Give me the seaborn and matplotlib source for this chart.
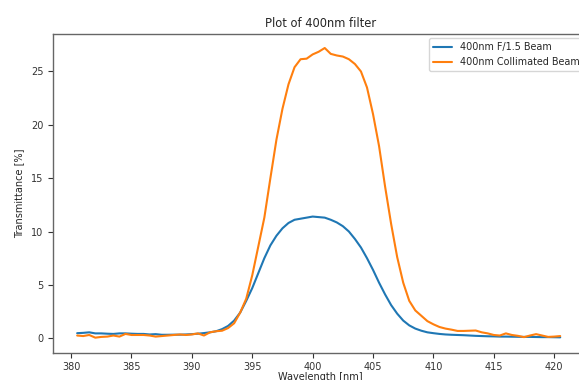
import numpy as np
import pandas as pd
import matplotlib
matplotlib.use("Agg")
import matplotlib.pyplot as plt
import seaborn as sns

wavelength = [380.5, 381.0, 381.5, 382.0, 382.5, 383.0, 383.5, 384.0, 384.5, 385.0,
              385.5, 386.0, 386.5, 387.0, 387.5, 388.0, 388.5, 389.0, 389.5, 390.0,
              390.5, 391.0, 391.5, 392.0, 392.5, 393.0, 393.5, 394.0, 394.5, 395.0,
              395.5, 396.0, 396.5, 397.0, 397.5, 398.0, 398.5, 399.0, 399.5, 400.0,
              400.5, 401.0, 401.5, 402.0, 402.5, 403.0, 403.5, 404.0, 404.5, 405.0,
              405.5, 406.0, 406.5, 407.0, 407.5, 408.0, 408.5, 409.0, 409.5, 410.0,
              410.5, 411.0, 411.5, 412.0, 412.5, 413.0, 413.5, 414.0, 414.5, 415.0,
              415.5, 416.0, 416.5, 417.0, 417.5, 418.0, 418.5, 419.0, 419.5, 420.0,
              420.5]

f15_beam = [0.47, 0.50, 0.55, 0.45, 0.45, 0.42, 0.40, 0.45, 0.45, 0.42,
            0.40, 0.40, 0.35, 0.38, 0.32, 0.32, 0.33, 0.33, 0.35, 0.38,
            0.42, 0.48, 0.55, 0.65, 0.85, 1.15, 1.65, 2.40, 3.50, 4.70,
            6.10, 7.50, 8.70, 9.60, 10.30, 10.80, 11.10, 11.20, 11.30, 11.40,
            11.35, 11.30, 11.10, 10.85, 10.50, 10.00, 9.30, 8.50, 7.50, 6.40,
            5.20, 4.10, 3.10, 2.30, 1.65, 1.20, 0.90, 0.70, 0.55, 0.47,
            0.40, 0.35, 0.32, 0.30, 0.28, 0.25, 0.22, 0.20, 0.18, 0.17,
            0.15, 0.15, 0.14, 0.13, 0.12, 0.12, 0.11, 0.10, 0.10, 0.09,
            0.08]

collimated_beam = [0.25, 0.20, 0.30, 0.05, 0.12, 0.15, 0.25, 0.15, 0.40, 0.30,
                   0.30, 0.30, 0.25, 0.15, 0.20, 0.25, 0.30, 0.35, 0.30, 0.35,
                   0.45, 0.25, 0.55, 0.65, 0.70, 0.95, 1.40, 2.40, 3.70, 5.90,
                   8.60, 11.30, 15.00, 18.60, 21.50, 23.80, 25.40, 26.15, 26.20, 26.60,
                   26.85, 27.20, 26.65, 26.50, 26.40, 26.15, 25.70, 25.00, 23.50, 21.00,
                   18.00, 14.20, 10.70, 7.60, 5.20, 3.50, 2.60, 2.10, 1.60, 1.30,
                   1.05, 0.90, 0.80, 0.68, 0.68, 0.70, 0.72, 0.55, 0.45, 0.30,
                   0.25, 0.45, 0.30, 0.22, 0.10, 0.25, 0.38, 0.25, 0.12, 0.15,
                   0.20]

series_names = ["400nm F/1.5 Beam", "400nm Collimated Beam"]

df = pd.concat([
    pd.DataFrame({"Wavelength": wavelength, "T": f15_beam, "Series": series_names[0]}),
    pd.DataFrame({"Wavelength": wavelength, "T": collimated_beam, "Series": series_names[1]}),
])

sns.set_style("ticks")
plt.rcParams["font.family"] = ["DejaVu Sans"]

fig = plt.figure(figsize=(5.79, 3.80), dpi=100)
ax = fig.add_axes([53 / 579, 1 - 352.7 / 380, (588 - 53) / 579, (352.7 - 33.5) / 380])
sns.lineplot(data=df, x="Wavelength", y="T", hue="Series",
             palette=["#1f77b4", "#ff7f0e"], linewidth=1.5, ax=ax)
ax.set_xlim(378.5, 422.8)
ax.set_ylim(-1.36, 28.56)
ax.set_xticks([380, 385, 390, 395, 400, 405, 410, 415, 420])
ax.set_yticks([0, 5, 10, 15, 20, 25])
ax.tick_params(labelsize=7, length=3.5, width=0.8, colors="#333333", pad=3.5)
ax.set_xlabel("Wavelength [nm]", fontsize=7, labelpad=0)
ax.set_ylabel("Transmittance [%]", fontsize=7, labelpad=5)
ax.set_title("Plot of 400nm filter", fontsize=8.3, pad=5)
for s in ax.spines.values():
    s.set_color("#666666")
    s.set_linewidth(1.0)
leg = ax.legend(title=None, fontsize=6.9, loc="upper right", frameon=True)
fig.savefig("out.png", dpi=100)
